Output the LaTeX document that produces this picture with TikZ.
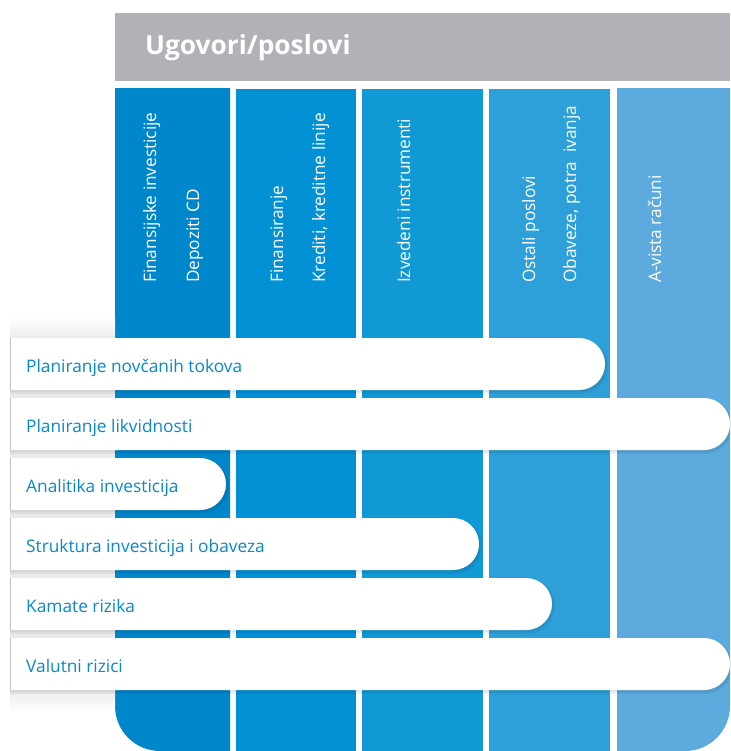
\documentclass[tikz,border=0pt]{standalone}
\usepackage{fontspec}
\setmainfont{Open Sans}
\definecolor{hdr}{RGB}{177,178,183}
\definecolor{c1}{RGB}{0,134,203}
\definecolor{c2}{RGB}{3,145,214}
\definecolor{c3}{RGB}{17,153,214}
\definecolor{c4}{RGB}{45,160,217}
\definecolor{c5}{RGB}{92,170,222}
\definecolor{band}{RGB}{235,235,237}
\definecolor{bartxt}{RGB}{8,136,205}
\tikzset{
  coltext/.style={rotate=90, anchor=base west, inner sep=0pt, text=white, font=\fontsize{17.2}{18}\selectfont},
  bartext/.style={anchor=base west, inner sep=0pt, text=bartxt, font=\fontsize{17.3}{18}\selectfont},
}
\newcommand\mybar[4]{%
  \begin{scope}
    \clip (10,#1-4) rectangle (730,#1+62);
    \fill[black, opacity=.05, rounded corners=27pt] (-60,#1+1) rectangle (#2+3,#1+56);
    \fill[black, opacity=.05, rounded corners=26pt] (-60,#1+1) rectangle (#2+1.5,#1+54);
    \fill[white, rounded corners=26pt] (-60,#1) rectangle (#2,#1+52);
  \end{scope}
  \draw[black!25, line width=1.2pt] (10.6,#1) -- (10.6,#1+52);
  \node[bartext] (#3) at (26,#1+34) {#4};
}
\begin{document}
\begin{tikzpicture}[x=1pt,y=-1pt]
\useasboundingbox (0,0) rectangle (730,751);
\fill[white] (0,0) rectangle (730,751);
% header
\fill[hdr] (115,13) rectangle (730,81);
\node[anchor=base west, inner sep=0pt, text=white, font=\fontsize{26.3}{27}\selectfont\bfseries] (title) at (145,55) {Ugovori/poslovi};
% columns
\begin{scope}
  \clip (115,89) rectangle (230,751);
  \fill[c1, rounded corners=45pt] (115,0) rectangle (400,751);
\end{scope}
\fill[c2] (236,89) rectangle (356,751);
\fill[c3] (362,89) rectangle (483,751);
\fill[c4] (489,89) rectangle (610,751);
\begin{scope}
  \clip (617,89) rectangle (730,751);
  \fill[c5, rounded corners=45pt] (400,0) rectangle (730,751);
\end{scope}
% column texts
\node[coltext] (t1a) at (156,283) {Finansijske investicije};
\node[coltext] (t1b) at (199,283) {Depoziti CD};
\node[coltext] (t2a) at (283,283) {Finansiranje};
\node[coltext] (t2b) at (325,283) {Krediti, kreditne linije};
\node[coltext] (t3a) at (410,283) {Izvedeni instrumenti};
\node[coltext] (t4a) at (535,283) {Ostali poslovi};
\node[coltext] (t4b) at (576,283) {Obaveze, potra\ \ ivanja};
\node[coltext] (t5a) at (661,283) {A-vista računi};
% gray band
\shade[top color=white, bottom color=band] (10,318) rectangle (115,338);
\fill[band] (10,338) rectangle (115,690);
\shade[top color=band, bottom color=white] (10,690) rectangle (115,712);
% bars
\mybar{338}{605}{b1}{Planiranje novčanih tokova}
\mybar{398}{730}{b2}{Planiranje likvidnosti}
\mybar{458}{226}{b3}{Analitika investicija}
\mybar{518}{479}{b4}{Struktura investicija i obaveza}
\mybar{578}{552}{b5}{Kamate rizika}
\mybar{638}{730}{b6}{Valutni rizici}
\end{tikzpicture}
\end{document}
